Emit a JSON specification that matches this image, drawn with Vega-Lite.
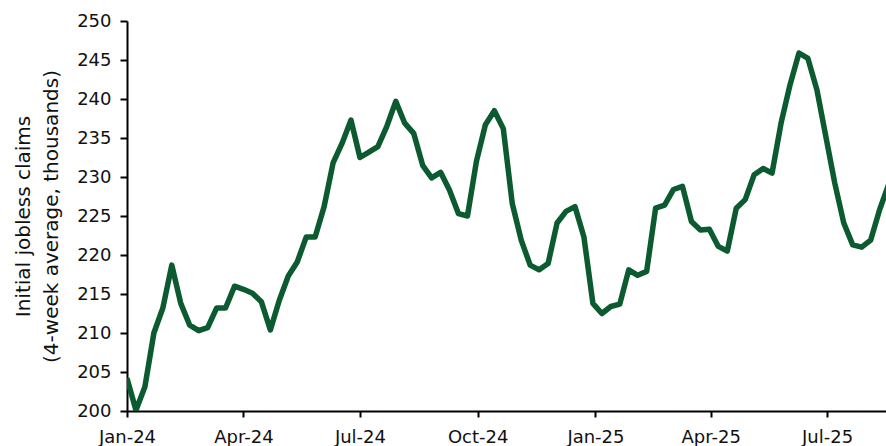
{
  "$schema": "https://vega.github.io/schema/vega-lite/v6.json",
  "width": 759,
  "height": 390,
  "autosize": {"type": "none"},
  "padding": {"left": 127, "top": 21, "right": 0, "bottom": 35},
  "background": "white",
  "config": {"view": {"stroke": null}, "font": "DejaVu Sans"},
  "data": {"values": [
    {"date": "2024-01-01", "claims": 204.2},
    {"date": "2024-01-08", "claims": 200.1},
    {"date": "2024-01-15", "claims": 203.1},
    {"date": "2024-01-22", "claims": 210.0},
    {"date": "2024-01-29", "claims": 213.2},
    {"date": "2024-02-05", "claims": 218.7},
    {"date": "2024-02-12", "claims": 213.8},
    {"date": "2024-02-19", "claims": 211.0},
    {"date": "2024-02-26", "claims": 210.3},
    {"date": "2024-03-04", "claims": 210.7},
    {"date": "2024-03-11", "claims": 213.2},
    {"date": "2024-03-18", "claims": 213.2},
    {"date": "2024-03-25", "claims": 216.0},
    {"date": "2024-04-01", "claims": 215.6},
    {"date": "2024-04-08", "claims": 215.1},
    {"date": "2024-04-15", "claims": 214.0},
    {"date": "2024-04-22", "claims": 210.4},
    {"date": "2024-04-29", "claims": 214.2},
    {"date": "2024-05-06", "claims": 217.3},
    {"date": "2024-05-13", "claims": 219.1},
    {"date": "2024-05-20", "claims": 222.3},
    {"date": "2024-05-27", "claims": 222.3},
    {"date": "2024-06-03", "claims": 226.2},
    {"date": "2024-06-10", "claims": 231.8},
    {"date": "2024-06-17", "claims": 234.3},
    {"date": "2024-06-24", "claims": 237.3},
    {"date": "2024-07-01", "claims": 232.5},
    {"date": "2024-07-08", "claims": 233.2},
    {"date": "2024-07-15", "claims": 233.9},
    {"date": "2024-07-22", "claims": 236.5},
    {"date": "2024-07-29", "claims": 239.7},
    {"date": "2024-08-05", "claims": 236.9},
    {"date": "2024-08-12", "claims": 235.6},
    {"date": "2024-08-19", "claims": 231.5},
    {"date": "2024-08-26", "claims": 229.9},
    {"date": "2024-09-02", "claims": 230.6},
    {"date": "2024-09-09", "claims": 228.3},
    {"date": "2024-09-16", "claims": 225.3},
    {"date": "2024-09-23", "claims": 225.0},
    {"date": "2024-09-30", "claims": 232.0},
    {"date": "2024-10-07", "claims": 236.7},
    {"date": "2024-10-14", "claims": 238.5},
    {"date": "2024-10-21", "claims": 236.2},
    {"date": "2024-10-28", "claims": 226.6},
    {"date": "2024-11-04", "claims": 221.9},
    {"date": "2024-11-11", "claims": 218.7},
    {"date": "2024-11-18", "claims": 218.1},
    {"date": "2024-11-25", "claims": 218.9},
    {"date": "2024-12-02", "claims": 224.1},
    {"date": "2024-12-09", "claims": 225.6},
    {"date": "2024-12-16", "claims": 226.2},
    {"date": "2024-12-23", "claims": 222.3},
    {"date": "2024-12-30", "claims": 213.8},
    {"date": "2025-01-06", "claims": 212.5},
    {"date": "2025-01-13", "claims": 213.4},
    {"date": "2025-01-20", "claims": 213.7},
    {"date": "2025-01-27", "claims": 218.1},
    {"date": "2025-02-03", "claims": 217.4},
    {"date": "2025-02-10", "claims": 217.9},
    {"date": "2025-02-17", "claims": 226.0},
    {"date": "2025-02-24", "claims": 226.4},
    {"date": "2025-03-03", "claims": 228.4},
    {"date": "2025-03-10", "claims": 228.8},
    {"date": "2025-03-17", "claims": 224.3},
    {"date": "2025-03-24", "claims": 223.2},
    {"date": "2025-03-31", "claims": 223.3},
    {"date": "2025-04-07", "claims": 221.1},
    {"date": "2025-04-14", "claims": 220.5},
    {"date": "2025-04-21", "claims": 226.0},
    {"date": "2025-04-28", "claims": 227.1},
    {"date": "2025-05-05", "claims": 230.3},
    {"date": "2025-05-12", "claims": 231.1},
    {"date": "2025-05-19", "claims": 230.5},
    {"date": "2025-05-26", "claims": 236.9},
    {"date": "2025-06-02", "claims": 241.8},
    {"date": "2025-06-09", "claims": 245.9},
    {"date": "2025-06-16", "claims": 245.2},
    {"date": "2025-06-23", "claims": 241.2},
    {"date": "2025-06-30", "claims": 235.2},
    {"date": "2025-07-07", "claims": 229.2},
    {"date": "2025-07-14", "claims": 224.1},
    {"date": "2025-07-21", "claims": 221.3},
    {"date": "2025-07-28", "claims": 221.0},
    {"date": "2025-08-04", "claims": 221.9},
    {"date": "2025-08-11", "claims": 225.8},
    {"date": "2025-08-18", "claims": 229.0}
  ]},
  "mark": {"type": "line", "color": "#0c5a2f", "strokeWidth": 5.5, "clip": true, "strokeJoin": "round"},
  "encoding": {
    "x": {
      "field": "date",
      "type": "temporal",
      "scale": {"type": "utc", "domain": [{"year": 2024, "month": 1, "date": 1, "utc": true}, {"year": 2025, "month": 8, "date": 16, "utc": true}]},
      "axis": {
        "title": null,
        "labelExpr": "utcFormat(datum.value, '%b-%y')",
        "values": [
          {"year": 2024, "month": 1, "date": 1, "utc": true},
          {"year": 2024, "month": 4, "date": 1, "utc": true},
          {"year": 2024, "month": 7, "date": 1, "utc": true},
          {"year": 2024, "month": 10, "date": 1, "utc": true},
          {"year": 2025, "month": 1, "date": 1, "utc": true},
          {"year": 2025, "month": 4, "date": 1, "utc": true},
          {"year": 2025, "month": 7, "date": 1, "utc": true}
        ],
        "grid": false,
        "domainColor": "#000000",
        "domainWidth": 2,
        "tickColor": "#000000",
        "tickWidth": 2,
        "tickSize": 6,
        "labelFont": "DejaVu Sans",
        "labelFontSize": 18,
        "labelColor": "#111111",
        "labelPadding": 11,
        "labelFlush": false,
        "labelOverlap": false
      }
    },
    "y": {
      "field": "claims",
      "type": "quantitative",
      "scale": {"domain": [200, 250], "nice": false, "zero": false},
      "axis": {
        "title": ["Initial jobless claims", "(4-week average, thousands)"],
        "titleFont": "DejaVu Sans",
        "titleFontSize": 20,
        "titleFontWeight": "normal",
        "titleColor": "#111111",
        "titleLineHeight": 28,
        "titlePadding": 15,
        "values": [200, 205, 210, 215, 220, 225, 230, 235, 240, 245, 250],
        "grid": false,
        "domainColor": "#000000",
        "domainWidth": 2,
        "tickColor": "#000000",
        "tickWidth": 2,
        "tickSize": 7,
        "labelFont": "DejaVu Sans",
        "labelFontSize": 18,
        "labelColor": "#111111",
        "labelPadding": 9
      }
    }
  }
}
